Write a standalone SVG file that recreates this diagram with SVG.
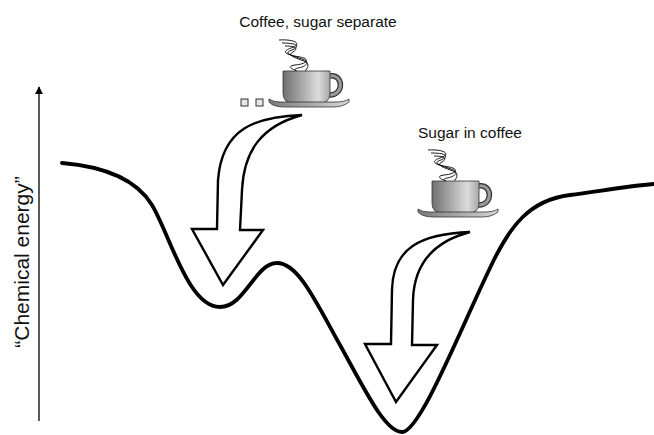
<svg xmlns="http://www.w3.org/2000/svg" xmlns:xlink="http://www.w3.org/1999/xlink" width="654" height="435" viewBox="0 0 654 435">
  <style>
    .label { font-family: "Liberation Sans", Arial, sans-serif; font-size: 15.5px; fill: #111; }
    .axis-label { font-family: "Liberation Sans", Arial, sans-serif; font-size: 21px; fill: #111; }
    .curve { fill: none; stroke: #000; stroke-width: 3.8; stroke-linecap: round; stroke-linejoin: round; }
    .big-arrow { fill: #fff; stroke: #000; stroke-width: 2.4; stroke-linejoin: miter; }
    .axis { fill: none; stroke: #000; stroke-width: 1.3; }
    .steam { fill: none; stroke: #000; stroke-width: 0.9; }
    .cube { fill: #e6e6e6; stroke: #333; stroke-width: 1; }
  </style>
  <defs>
    <linearGradient id="bodyGrad" x1="0" y1="0" x2="1" y2="0">
      <stop offset="0" stop-color="#6f6f6f"/>
      <stop offset="0.75" stop-color="#dcdcdc"/>
      <stop offset="1" stop-color="#a8a8a8"/>
    </linearGradient>
    <linearGradient id="saucerGrad" x1="0" y1="0" x2="1" y2="0">
      <stop offset="0" stop-color="#7a7a7a"/>
      <stop offset="1" stop-color="#d6d6d6"/>
    </linearGradient>
    <marker id="axisHead" viewBox="0 0 10 10" refX="9" refY="5" markerWidth="8" markerHeight="8" markerUnits="userSpaceOnUse" orient="auto">
      <path d="M0,0 L10,5 L0,10 Z" fill="#000"/>
    </marker>
    <!-- steaming mug on a saucer; origin = top-left of the mug body -->
    <g id="cup">
      <path class="steam" d="M-4,-31 C12,-32 20,-27 8,-23 C-3,-19 4,-16 17,-14 C28,-12 24,-7 12,-6 C4,-5 8,-2 14,0"/>
      <path class="steam" d="M-1,-28 C14,-28 18,-25 9,-21 C0,-18 7,-16 19,-12 C29,-9 22,-4 15,-3 C10,-2 12,0 16,1"/>
      <path class="steam" d="M2,-25 C14,-25 15,-22 10,-19 C4,-16 10,-14 21,-10 C28,-7 24,-2 22,0"/>
      <path d="M47,5 C61,3 61,25 46,24" fill="none" stroke="#333" stroke-width="5.5"/>
      <path d="M47,5 C61,3 61,25 46,24" fill="none" stroke="#9a9a9a" stroke-width="3"/>
      <path d="M0,0 L47,0 L47,22 Q47,32 37,32 L10,32 Q0,32 0,22 Z" fill="url(#bodyGrad)" stroke="#333" stroke-width="0.8"/>
      <path d="M-14,28 Q-10,31 -3,31 L52,31 Q62,31 66,28 L66,31 Q60,36 50,36 L2,36 Q-10,36 -14,31 Z" fill="url(#saucerGrad)" stroke="#333" stroke-width="0.8"/>
    </g>
  </defs>

  <!-- vertical energy axis -->
  <g id="energy-axis">
    <line class="axis" x1="39" y1="421" x2="39" y2="87" marker-end="url(#axisHead)"/>
    <text class="axis-label" transform="translate(29,262) rotate(-90)" text-anchor="middle">“Chemical energy”</text>
  </g>

  <!-- energy landscape -->
  <g id="energy-curve">
    <path class="curve" d="M62,163 C110,167 138,182 152,205 C170,235 188,307 220,307 C245,307 255,263 277,263 C298,263 315,300 340,345 C365,390 385,432 402,432 C420,432 460,330 490,268 C510,225 530,200 570,195 C600,191 630,186 653,184"/>
  </g>

  <g id="state-separate">
    <text class="label" x="318" y="27" text-anchor="middle">Coffee, sugar separate</text>
    <use xlink:href="#cup" x="283" y="71"/>
    <rect class="cube" x="241" y="99" width="7" height="7"/>
    <rect class="cube" x="256" y="99" width="7" height="7"/>
  </g>

  <g id="state-dissolved">
    <text class="label" x="418" y="138">Sugar in coffee</text>
    <use xlink:href="#cup" x="432" y="181"/>
  </g>

  <!-- downhill transitions -->
  <g id="connectors">
    <path class="big-arrow" d="M302,115 C255,117 222,128 218,180 L217,229 L192,229 L223,285 L263,230 L240,230 L242,190 C244,150 262,126 302,115 Z"/>
    <path class="big-arrow" d="M470,232 C420,234 393,248 392,290 L391,344 L365,344 L396,402 L437,345 L412,345 L413,300 C414,265 432,242 470,232 Z"/>
  </g>
</svg>
